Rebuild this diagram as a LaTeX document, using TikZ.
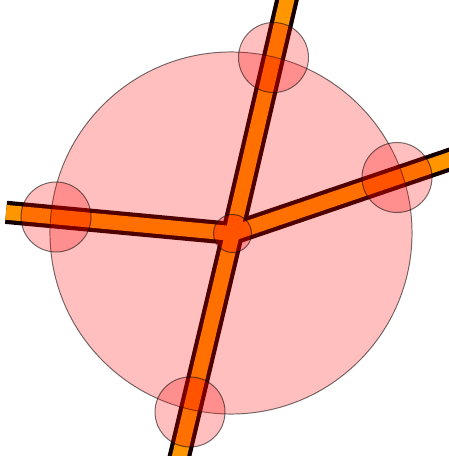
\documentclass[tikz,border=0pt]{standalone}
\usepackage{tikz}
\usetikzlibrary{calc}
\definecolor{rodorange}{RGB}{255,150,0}
\definecolor{rodedge}{RGB}{20,0,0}
\begin{document}
\begin{tikzpicture}[x=0.025cm, y=0.025cm,
      zone/.style={circle, draw=black, draw opacity=0.55, fill=red,
          fill opacity=0.25, line width=0.7pt, inner sep=0pt},
      knot/.style={zone, minimum size=1.75cm},
      rodout/.style={draw=rodedge, line width=0.58cm},
      rodin/.style={draw=rodorange, line width=0.37cm}
    ]
    \clip (0,0) rectangle (449,456);
    \coordinate (hub) at (232.5,222.5);
    \coordinate (kt) at (273.5,398.5);
    \coordinate (kr) at (397,278.5);
    \coordinate (kl) at (56,239);
    \coordinate (kb) at (190,44);
    \coordinate (et) at ($(hub)!1.5!(kt)$);
    \coordinate (er) at ($(hub)!1.5!(kr)$);
    \coordinate (el) at ($(hub)!1.283!(kl)$);
    \coordinate (eb) at ($(hub)!1.5!(kb)$);

    % rods: dark edge first, orange core on top
    \draw[rodout] (et) -- (hub) -- (eb);
    \draw[rodout] (el) -- (hub) -- (er);
    \draw[rodin]  (et) -- (hub) -- (eb);
    \draw[rodin]  (el) -- (hub) -- (er);

    % circles over the rods
    \node[zone, minimum size=9.05cm] (disc) at (231,223) {};
    \node[knot] (top)    at (kt) {};
    \node[knot] (right)  at (kr) {};
    \node[knot] (left)   at (kl) {};
    \node[knot] (bottom) at (kb) {};
    \node[zone, minimum size=0.95cm] (core) at (hub) {};
  \end{tikzpicture}
\end{document}
